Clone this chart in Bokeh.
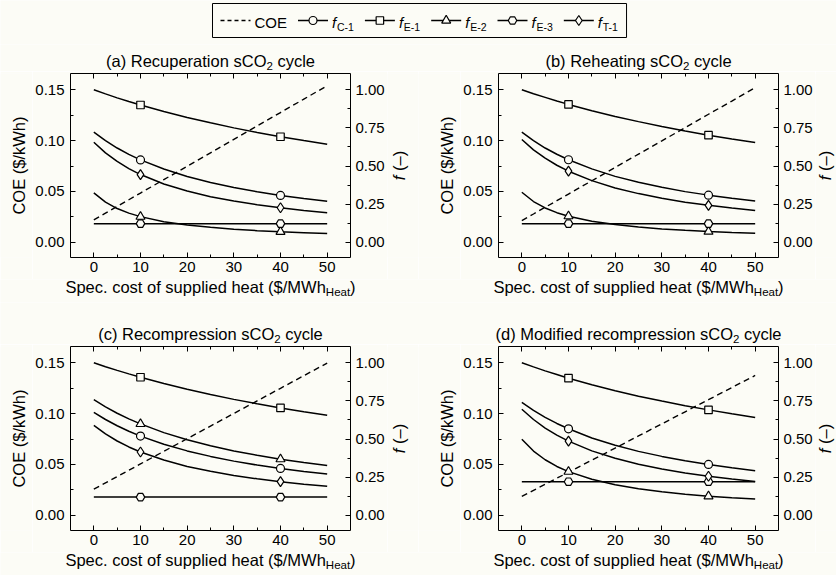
import math
from bokeh.plotting import figure
from bokeh.models import Range1d, LinearAxis, FixedTicker, PrintfTickFormatter, Label
from bokeh.layouts import column, row
from bokeh.embed import file_html
from bokeh.resources import INLINE
from bokeh.core.properties import value

# ---------------- data ----------------
heat_cost = [0, 2.5, 5, 7.5, 10, 15, 20, 25, 30, 35, 40, 45, 50]
marker_costs = [10, 40]
x_ticks = [0, 10, 20, 30, 40, 50]
x_minor = [5, 15, 25, 35, 45]
coe_ticks = [0.00, 0.05, 0.10, 0.15]
coe_minor = [0.025, 0.075, 0.125]
f_ticks = [0.00, 0.25, 0.50, 0.75, 1.00]
f_minor = [0.125, 0.375, 0.625, 0.875]

panel_titles = ["(a) Recuperation sCO", "(b) Reheating sCO",
                "(c) Recompression sCO", "(d) Modified recompression sCO"]

coe_a = [0.022, 0.0286, 0.0352, 0.0418, 0.0484, 0.0616, 0.0748, 0.088, 0.1012, 0.1144, 0.1276, 0.1408, 0.154]
fC1_a = [0.722, 0.666, 0.618, 0.576, 0.540, 0.480, 0.431, 0.392, 0.359, 0.331, 0.307, 0.287, 0.269]
fE1_a = [1.000, 0.973, 0.947, 0.923, 0.900, 0.857, 0.818, 0.783, 0.750, 0.720, 0.692, 0.667, 0.643]
fE2_a = [0.324, 0.263, 0.221, 0.191, 0.168, 0.135, 0.113, 0.098, 0.086, 0.076, 0.069, 0.063, 0.057]
fE3_a = [0.122, 0.122, 0.122, 0.122, 0.122, 0.122, 0.122, 0.122, 0.122, 0.122, 0.122, 0.122, 0.122]
fT1_a = [0.656, 0.586, 0.530, 0.483, 0.444, 0.382, 0.336, 0.299, 0.270, 0.246, 0.226, 0.208, 0.194]

coe_b = [0.0213, 0.0278, 0.0344, 0.0409, 0.0474, 0.0605, 0.0736, 0.0867, 0.0997, 0.1128, 0.1259, 0.1389, 0.152]
fC1_b = [0.722, 0.666, 0.618, 0.577, 0.541, 0.481, 0.432, 0.393, 0.360, 0.332, 0.309, 0.288, 0.270]
fE1_b = [1.000, 0.974, 0.950, 0.926, 0.904, 0.863, 0.825, 0.791, 0.759, 0.729, 0.702, 0.677, 0.654]
fE2_b = [0.328, 0.267, 0.225, 0.194, 0.171, 0.138, 0.116, 0.0995, 0.087, 0.078, 0.070, 0.064, 0.059]
fE3_b = [0.122, 0.122, 0.122, 0.122, 0.122, 0.122, 0.122, 0.122, 0.122, 0.122, 0.122, 0.122, 0.122]
fT1_b = [0.674, 0.606, 0.551, 0.505, 0.466, 0.404, 0.356, 0.319, 0.288, 0.263, 0.242, 0.224, 0.209]

coe_c = [0.0257, 0.0319, 0.0381, 0.0443, 0.0505, 0.0629, 0.0753, 0.0877, 0.1001, 0.1125, 0.1249, 0.1373, 0.1497]
fC1_c = [0.675, 0.628, 0.587, 0.551, 0.519, 0.466, 0.422, 0.386, 0.355, 0.329, 0.307, 0.287, 0.270]
fE1_c = [1.000, 0.974, 0.950, 0.927, 0.905, 0.864, 0.826, 0.792, 0.760, 0.731, 0.704, 0.679, 0.656]
fE2_c = [0.758, 0.711, 0.669, 0.632, 0.599, 0.542, 0.495, 0.456, 0.422, 0.393, 0.368, 0.346, 0.326]
fE3_c = [0.119, 0.119, 0.119, 0.119, 0.119, 0.119, 0.119, 0.119, 0.119, 0.119, 0.119, 0.119, 0.119]
fT1_c = [0.589, 0.533, 0.487, 0.448, 0.415, 0.362, 0.320, 0.288, 0.261, 0.239, 0.220, 0.204, 0.190]

coe_d = [0.0185, 0.0245, 0.0304, 0.0364, 0.0423, 0.0542, 0.0661, 0.078, 0.0899, 0.1018, 0.1137, 0.1256, 0.1375]
fC1_d = [0.741, 0.688, 0.642, 0.602, 0.567, 0.507, 0.459, 0.419, 0.386, 0.357, 0.333, 0.311, 0.292]
fE1_d = [1.000, 0.973, 0.947, 0.923, 0.899, 0.856, 0.817, 0.781, 0.749, 0.718, 0.691, 0.665, 0.641]
fE2_d = [0.499, 0.421, 0.364, 0.320, 0.286, 0.236, 0.200, 0.174, 0.154, 0.138, 0.125, 0.115, 0.106]
fE3_d = [0.220, 0.220, 0.220, 0.220, 0.220, 0.220, 0.220, 0.220, 0.220, 0.220, 0.220, 0.220, 0.220]
fT1_d = [0.695, 0.628, 0.572, 0.526, 0.486, 0.422, 0.374, 0.335, 0.303, 0.277, 0.256, 0.237, 0.221]

# ---------------- style ----------------
BG = "#fcfcf6"
INK = "#000000"
FONT = "Liberation Sans"
TICK_FS = 15
LAB_FS = 16.5
SUB_FS = 11.5
LEG_FS = 15
LEG_SUB = 10.5
MID = 0.35          # "middle" anchor sits this many em above the baseline

XL0, XL1 = -5, 55
YL0, YL1 = -0.015, 0.166
FL0, FL1 = YL0 / 0.15, YL1 / 0.15
FW, FH = 280, 184
ML, MR, MT, MB = 38, 37, 2, 22          # borders of each main panel figure
TOTAL_W = 836

# column geometry (page pixels)
YLAB_W = [32, 42]
FLAB_W = [31, 21]
YLAB_X = [18.2, 28.2]
FLAB_X = [11, 9.5]
COL_X0 = [0, 418]

AW = {' ': 278, '(': 333, ')': 333, '$': 556, '/': 278, '.': 278, '-': 333, '\u2013': 556,
      'A': 667, 'B': 667, 'C': 722, 'D': 722, 'E': 667, 'F': 611, 'G': 778, 'H': 722, 'I': 278,
      'K': 667, 'L': 556, 'M': 833, 'N': 722, 'O': 778, 'P': 667, 'R': 722, 'S': 667, 'T': 611,
      'W': 944, 'a': 556, 'b': 556, 'c': 500, 'd': 556, 'e': 556, 'f': 278, 'g': 556, 'h': 556,
      'i': 222, 'k': 500, 'l': 222, 'm': 833, 'n': 556, 'o': 556, 'p': 556, 'r': 333, 's': 500,
      't': 278, 'u': 556, 'v': 500, 'w': 722, 'y': 500}


def tw(s, size):
    return sum(AW.get(ch, 556) for ch in s) / 1000.0 * size


def style_axis(ax, standoff, hide=False):
    ax.axis_line_color = None
    ax.major_tick_in = 5
    ax.major_tick_out = 0
    ax.minor_tick_in = 3
    ax.minor_tick_out = 0
    ax.major_tick_line_color = INK
    ax.minor_tick_line_color = INK
    ax.major_tick_line_width = 1
    ax.minor_tick_line_width = 1
    ax.major_label_standoff = standoff
    ax.major_label_text_font = FONT
    if hide:
        ax.major_label_text_font_size = "0px"
        ax.major_label_text_color = None
    else:
        ax.major_label_text_font_size = f"{TICK_FS}px"
        ax.major_label_text_color = INK


def add_label(p, x, y, text, size, style="normal", align="left", angle=0.0):
    kw = dict(x=x, y=y, text=text, text_font_size=f"{size}px", text_color=INK,
              text_align=align, text_baseline="middle", angle=angle, angle_units="rad")
    try:
        lab = Label(text_font=value(FONT), text_font_style=value(style), **kw)
    except Exception:
        lab = Label(text_font=FONT, text_font_style=style, **kw)
    p.add_layout(lab)


def add_text_on_baseline(p, x, base, text, size, style="normal"):
    add_label(p, x, base + MID * size, text, size, style=style)


def strip(w, h, bt=0, bb=0):
    """Text strip; its frame is w x h pixels, data coordinates are pixels."""
    s = figure(frame_width=w, frame_height=h, x_range=Range1d(0, w), y_range=Range1d(0, h),
               x_axis_location=None, y_axis_location=None, toolbar_location=None,
               output_backend="svg", min_border_left=0, min_border_right=0,
               min_border_top=bt, min_border_bottom=bb)
    s.background_fill_color = BG
    s.border_fill_color = BG
    s.outline_line_color = None
    s.grid.visible = False
    return s


def composite_h(p, pieces, center_x, base_y):
    # leading spaces are not drawn by the renderer, so they are turned into an x offset
    total = sum(tw(t, s) for t, s, dy in pieces)
    cur = center_x - total / 2
    for t, s, dy in pieces:
        stripped = t.lstrip(" ")
        lead = tw(t[:len(t) - len(stripped)], s)
        add_text_on_baseline(p, cur + lead, base_y + dy, stripped, s)
        cur += tw(t, s)


def pick(series):
    return [v for xv, v in zip(heat_cost, series) if xv in marker_costs]


marker_specs = [("circle", 8), ("square", 7.5), ("triangle", 9), ("hex", 8.5), ("diamond", 10)]


def make_main(coe, fc1, fe1, fe2, fe3, ft1):
    p = figure(frame_width=FW, frame_height=FH, x_range=Range1d(XL0, XL1), y_range=Range1d(YL0, YL1),
               x_axis_location=None, y_axis_location=None, toolbar_location=None,
               output_backend="svg", min_border_left=ML, min_border_right=MR,
               min_border_top=MT, min_border_bottom=MB)
    p.extra_y_ranges = {"f": Range1d(FL0, FL1)}
    p.background_fill_color = BG
    p.border_fill_color = BG
    p.outline_line_color = INK
    p.outline_line_width = 1
    p.grid.visible = False

    bottom = LinearAxis(ticker=FixedTicker(ticks=x_ticks, minor_ticks=x_minor))
    style_axis(bottom, 4)
    p.add_layout(bottom, "below")
    top = LinearAxis(ticker=FixedTicker(ticks=x_ticks, minor_ticks=x_minor))
    style_axis(top, 0, hide=True)
    p.add_layout(top, "above")
    left = LinearAxis(ticker=FixedTicker(ticks=coe_ticks, minor_ticks=coe_minor),
                      formatter=PrintfTickFormatter(format="%.2f"))
    style_axis(left, 6)
    p.add_layout(left, "left")
    right = LinearAxis(y_range_name="f", ticker=FixedTicker(ticks=f_ticks, minor_ticks=f_minor),
                       formatter=PrintfTickFormatter(format="%.2f"))
    style_axis(right, 5)
    p.add_layout(right, "right")

    p.line(heat_cost, coe, line_color=INK, line_width=1.4, line_dash="6 4")
    series = [fc1, fe1, fe2, fe3, ft1]
    for s in series:
        p.line(heat_cost, s, line_color=INK, line_width=1.5, y_range_name="f")
    for s, (mk, sz) in zip(series, marker_specs):
        p.scatter(marker_costs, pick(s), marker=mk, size=sz, fill_color=BG, line_color=INK,
                  line_width=1.2, y_range_name="f")
    return p


def frame_centre_x(col):
    return COL_X0[col] + YLAB_W[col] + ML + FW / 2


def title_strip(h, prefixes, base):
    s = strip(TOTAL_W, h)
    for col, prefix in enumerate(prefixes):
        composite_h(s, [(prefix, LAB_FS, 0), ("2", SUB_FS, -3), (" cycle", LAB_FS, 0)],
                    frame_centre_x(col), base)
    return s


def xlabel_strip(h, base):
    s = strip(TOTAL_W, h)
    for col in range(2):
        composite_h(s, [("Spec. cost of supplied heat ($/MWh", LAB_FS, 0), ("Heat", SUB_FS, -3),
                        (")", LAB_FS, 0)], frame_centre_x(col), base)
    return s


def panel_row(datas):
    kids = []
    for col, data in enumerate(datas):
        ls = strip(YLAB_W[col], FH, MT, MB)
        add_label(ls, YLAB_X[col], FH / 2, "COE ($/kWh)", LAB_FS, align="center",
                  angle=math.pi / 2)
        rs = strip(FLAB_W[col], FH, MT, MB)
        w1 = tw("f ", LAB_FS)
        w2 = tw("(\u2013)", LAB_FS)
        start = FH / 2 - (w1 + w2) / 2
        add_label(rs, FLAB_X[col], start, "f", LAB_FS, style="italic", angle=math.pi / 2)
        add_label(rs, FLAB_X[col], start + w1, "(\u2013)", LAB_FS, angle=math.pi / 2)
        kids += [ls, make_main(*data), rs]
    return row(*kids)


# ---------------- legend strip ----------------
LGH = 44
lg = strip(TOTAL_W, LGH)
legend_items = [("dash", "COE", None), ("circle", "f", "C-1"), ("square", "f", "E-1"),
                ("triangle", "f", "E-2"), ("hex", "f", "E-3"), ("diamond", "f", "T-1")]
marker_size = dict(marker_specs)
hy = 24.0      # handle centre
ty = 17.0      # text baseline
cur = 220.0
pos = []
for kind, main_txt, sub in legend_items:
    tx = cur + 34
    if sub is None:
        end = tx + tw(main_txt, LEG_FS)
    else:
        end = tx + tw(main_txt, LEG_FS) + 0.8 + tw(sub, LEG_SUB)
    pos.append((kind, main_txt, sub, cur, tx, end))
    cur = end + 11
box_l = pos[0][3] - 8
box_r = pos[-1][5] + 8
lg.quad(left=[box_l], right=[box_r], bottom=[7], top=[41], fill_color=BG, line_color=INK,
        line_width=1)
for kind, main_txt, sub, h0, tx, end in pos:
    if kind == "dash":
        lg.line([h0, h0 + 30], [hy, hy], line_color=INK, line_width=1.4, line_dash="4 3")
        add_text_on_baseline(lg, tx, ty, main_txt, LEG_FS)
    else:
        lg.line([h0, h0 + 30], [hy, hy], line_color=INK, line_width=1.5)
        lg.scatter([h0 + 15], [hy], marker=kind, size=marker_size[kind], fill_color=BG,
                   line_color=INK, line_width=1.2)
        add_text_on_baseline(lg, tx, ty, main_txt, LEG_FS, style="italic")
        add_text_on_baseline(lg, tx + tw(main_txt, LEG_FS) + 0.8, ty - 3, sub, LEG_SUB)

# ---------------- panels ----------------
data_a = (coe_a, fC1_a, fE1_a, fE2_a, fE3_a, fT1_a)
data_b = (coe_b, fC1_b, fE1_b, fE2_b, fE3_b, fT1_b)
data_c = (coe_c, fC1_c, fE1_c, fE2_c, fE3_c, fT1_c)
data_d = (coe_d, fC1_d, fE1_d, fE2_d, fE3_d, fT1_d)

layout = column(
    lg,
    title_strip(27, panel_titles[0:2], 4.5),
    panel_row([data_a, data_b]),
    xlabel_strip(23, 9.5),
    title_strip(42, panel_titles[2:4], 4.5),
    panel_row([data_c, data_d]),
    xlabel_strip(23, 9.5),
)
open("out.html", "w").write(file_html(layout, INLINE))
